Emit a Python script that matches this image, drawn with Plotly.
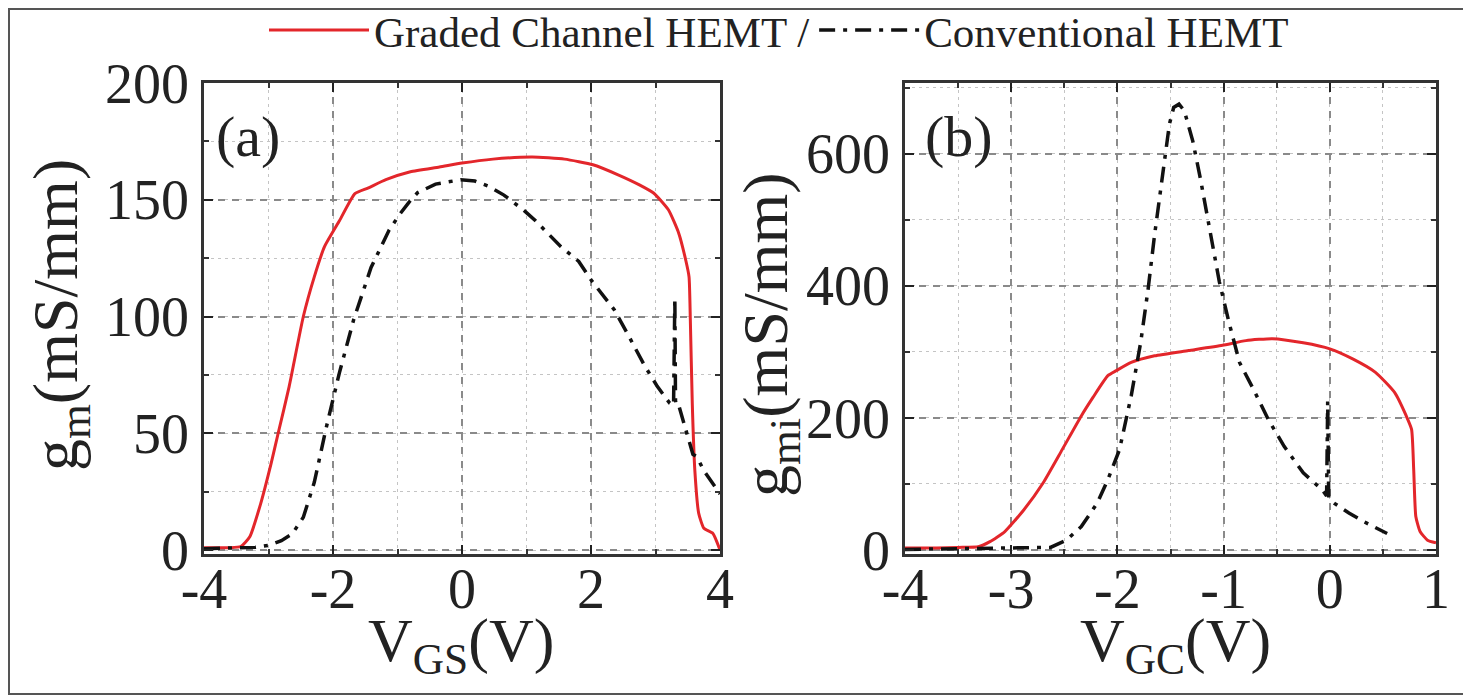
import plotly.graph_objects as go

# ---------- data ----------
# Panel (a): gm vs VGS
a_graded_x = [-4.0, -3.8, -3.6, -3.43, -3.29, -3.12, -2.96, -2.85, -2.68, -2.46, -2.29, -2.13, -1.90, -1.66,
              -1.46, -1.18, -0.80, -0.35, 0.0, 0.48, 1.09, 1.59, 2.03, 2.42, 2.75, 2.97, 3.20, 3.36,
              3.47, 3.52, 3.54, 3.57, 3.61, 3.67, 3.75, 3.89, 4.0]
a_graded_y = [1, 1, 1, 1.5, 5.7, 20, 37, 50, 70, 100, 117, 130, 141, 152.6,
              155, 158.6, 162, 164, 165.7, 167.4, 168.3, 167.4, 165, 160.7, 156.4, 152.9, 145.7, 135.7,
              124, 117, 98.6, 62.9, 34, 15.7, 9.3, 7.1, 0]

a_conv_x = [-4.0, -3.6, -3.2, -3.0, -2.8, -2.63, -2.46, -2.29, -2.10, -1.90, -1.68, -1.41, -1.13, -0.96,
            -0.82, -0.69, -0.41, -0.02, 0.20, 0.42, 0.65, 0.95, 1.14, 1.53, 1.81, 2.00, 2.20, 2.36,
            2.59, 2.83, 3.03, 3.22, 3.28, 3.30, 3.31, 3.32, 3.36, 3.50, 3.58, 3.64, 3.75, 4.0]
a_conv_y = [0.5, 0.8, 1.2, 2, 4, 7, 14, 29, 53, 76, 98.6, 121, 137, 144,
            149, 153, 156.7, 158.6, 158, 155.7, 152, 145.7, 141, 130, 123.6, 115.7, 108.6, 102.9,
            91.4, 79, 70, 62.9, 62, 108, 64, 62, 62, 48.6, 41, 40, 34, 24]

# Panel (b): gmi vs VGC
b_graded_x = [-4.0, -3.7, -3.5, -3.31, -3.20, -3.06, -2.88, -2.70, -2.52, -2.34, -2.23, -2.09, -2.01, -1.87,
              -1.65, -1.33, -1.01, -0.79, -0.54, -0.25, 0.0, 0.22, 0.43, 0.61, 0.72, 0.77, 0.79,
              0.81, 0.85, 0.92, 1.0]
b_graded_y = [3, 3, 4, 5, 12.7, 28, 61, 101.5, 152, 203, 231, 264, 271.6, 284,
              294, 302, 310, 317, 320, 313.7, 304.6, 289, 269, 238.6, 203, 182.7, 121.8,
              50.8, 28, 15, 11]

b_conv_x = [-4.0, -3.5, -3.0, -2.63, -2.48, -2.34, -2.19, -2.09, -1.98, -1.87, -1.78, -1.71, -1.65, -1.60,
            -1.55, -1.51, -1.47, -1.42, -1.37, -1.29, -1.22, -1.13, -1.04, -0.95, -0.85, -0.72, -0.58,
            -0.43, -0.25, -0.07, -0.03, -0.02, -0.01, 0.04, 0.18, 0.32, 0.54]
b_conv_y = [1, 2, 3, 4, 15, 35.5, 71, 106.6, 152, 233.5, 315, 396, 477, 538,
            604, 645, 670, 675, 665, 619, 563.5, 482, 406, 345, 284, 243.6, 198,
            157, 116.8, 91, 82, 225, 78, 71, 56, 43, 25]

legend_names = ["Graded Channel HEMT /", "Conventional HEMT"]
a_xticks = [-4, -2, 0, 2, 4]
a_yticks = [0, 50, 100, 150, 200]
b_xticks = [-4, -3, -2, -1, 0, 1]
b_yticks = [0, 200, 400, 600]

# ---------- styling ----------
OFF = 8                      # page body margin
W, H = 1471 - OFF, 696 - OFF
FONT = "Liberation Serif"
RED = "#e3262b"
BLACK = "#111111"
DASHDOT = "16px,8px,4px,8px"
TXT = "#222"

fig = go.Figure()
fig.add_trace(go.Scatter(x=a_graded_x, y=a_graded_y, mode="lines", name=legend_names[0],
                         line=dict(color=RED, width=3, shape="spline", smoothing=0.5),
                         xaxis="x", yaxis="y"))
fig.add_trace(go.Scatter(x=a_conv_x, y=a_conv_y, mode="lines", name=legend_names[1],
                         line=dict(color=BLACK, width=3.5, dash=DASHDOT), xaxis="x", yaxis="y"))
fig.add_trace(go.Scatter(x=b_graded_x, y=b_graded_y, mode="lines", showlegend=False,
                         line=dict(color=RED, width=3, shape="spline", smoothing=0.5),
                         xaxis="x2", yaxis="y2"))
fig.add_trace(go.Scatter(x=b_conv_x, y=b_conv_y, mode="lines", showlegend=False,
                         line=dict(color=BLACK, width=3.5, dash=DASHDOT), xaxis="x2", yaxis="y2"))


def px_x(p):
    return (p - OFF) / W


def px_y(p):
    return 1 - (p - OFF) / H


def axis(domain, rng, tickvals, dtick_minor, anchor, standoff):
    return dict(
        domain=domain, range=rng, anchor=anchor, automargin=False,
        tickmode="array", tickvals=tickvals, ticktext=[str(v) for v in tickvals],
        ticks="inside", ticklen=9, tickwidth=2, tickcolor="#222",
        showline=True, linecolor="#333", linewidth=2.5, mirror="allticks",
        showgrid=True, gridcolor="#8a8a8a", gridwidth=1.6, griddash="7px,7px",
        zeroline=False,
        tickfont=dict(family=FONT, size=56, color=TXT),
        ticklabelstandoff=standoff,
        minor=dict(dtick=dtick_minor, ticks="inside", ticklen=5, tickwidth=1.5, tickcolor="#333",
                   showgrid=True, gridcolor="#c4c4c4", gridwidth=1, griddash="3px,4px"),
    )


ydom = [px_y(554), px_y(83)]
fig.update_layout(
    width=W, height=H,
    margin=dict(l=0, r=0, t=0, b=0, pad=0, autoexpand=False),
    paper_bgcolor="white", plot_bgcolor="white",
    xaxis=axis([px_x(204), px_x(720)], [-4, 4], a_xticks, 1, "y", -16),
    yaxis=axis(ydom, [-1.7, 200], a_yticks, 25, "x", 1),
    xaxis2=axis([px_x(905), px_x(1436)], [-4, 1], b_xticks, 0.5, "y2", -16),
    yaxis2=axis(ydom, [-6, 707], b_yticks, 100, "x2", 1),
    showlegend=True,
    legend=dict(orientation="h", x=px_x(264), xanchor="left", y=px_y(30), yanchor="middle",
                font=dict(family=FONT, size=43, color=TXT), itemwidth=100,
                bgcolor="rgba(0,0,0,0)", tracegroupgap=0),
)

ann_font = dict(family=FONT, color=TXT)
annotations = [
    dict(text="(a)", x=px_x(214), y=px_y(136), xanchor="left", yanchor="middle",
         font=dict(size=58, **ann_font)),
    dict(text="(b)", x=px_x(923), y=px_y(136), xanchor="left", yanchor="middle",
         font=dict(size=58, **ann_font)),
    dict(text="V<sub>GS</sub>(V)", x=px_x(461), y=px_y(644), xanchor="center", yanchor="middle",
         font=dict(size=62, **ann_font)),
    dict(text="V<sub>GC</sub>(V)", x=px_x(1175), y=px_y(644), xanchor="center", yanchor="middle",
         font=dict(size=62, **ann_font)),
    dict(text="g<sub>m</sub>(mS/mm)", x=px_x(60), y=px_y(315), textangle=-90,
         xanchor="center", yanchor="middle", font=dict(size=64, **ann_font)),
    dict(text="g<sub>mi</sub>(mS/mm)", x=px_x(770), y=px_y(335), textangle=-90,
         xanchor="center", yanchor="middle", font=dict(size=64, **ann_font)),
]
for a in annotations:
    a.update(xref="paper", yref="paper", showarrow=False)
fig.update_layout(annotations=annotations)

fig.add_shape(type="rect", xref="paper", yref="paper",
              x0=px_x(9), x1=px_x(1466), y0=px_y(694), y1=px_y(9),
              line=dict(color="#555", width=2), fillcolor="rgba(0,0,0,0)")

fig.write_html("out.html")
